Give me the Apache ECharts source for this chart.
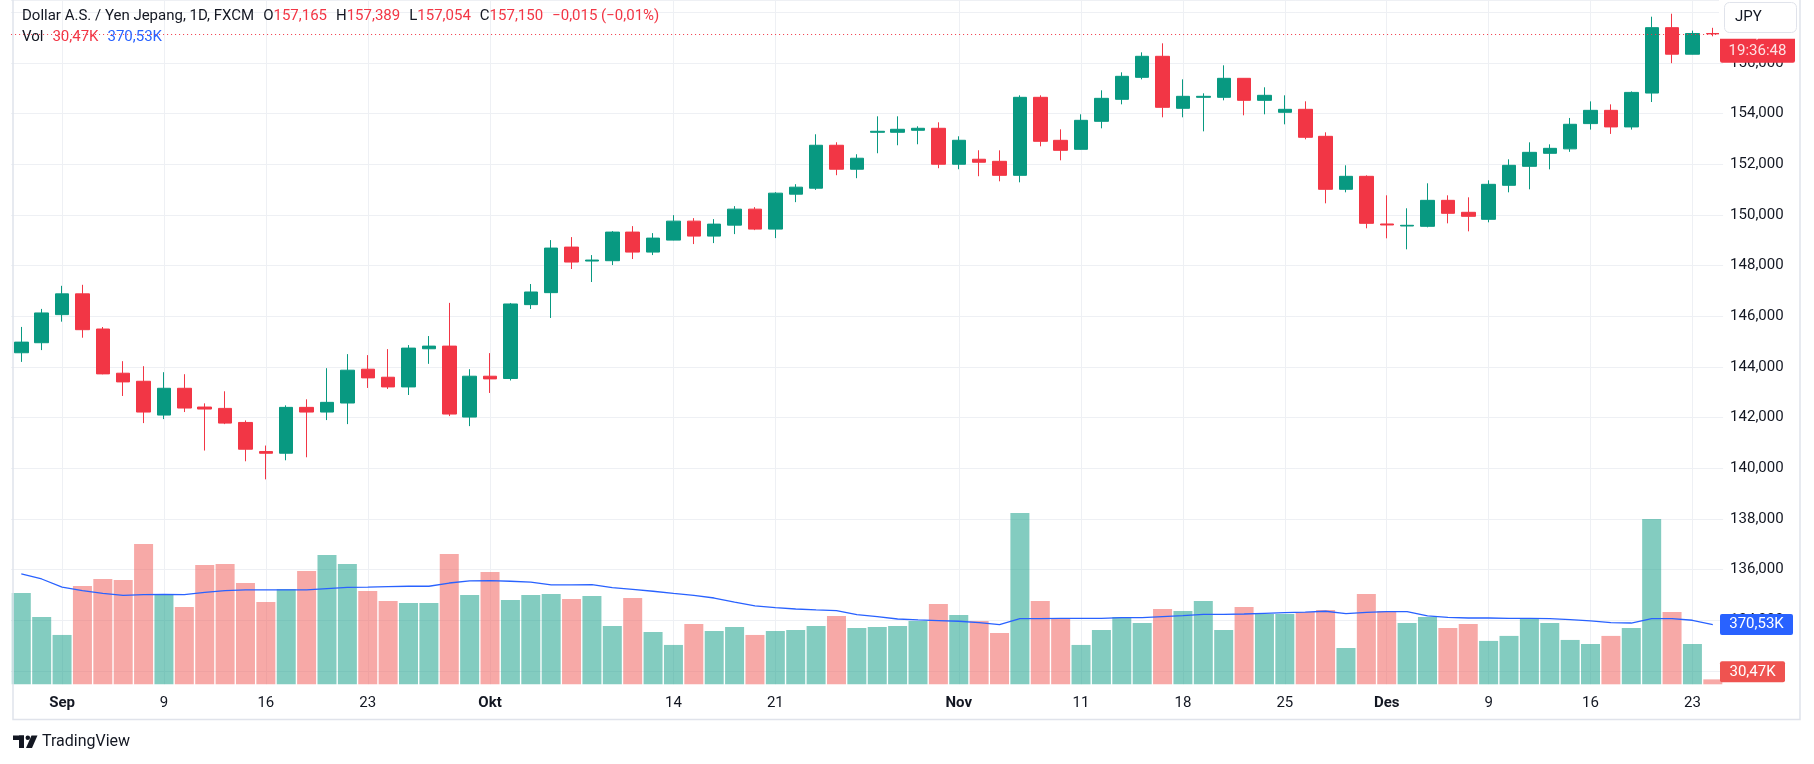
<!DOCTYPE html>
<html>
<head>
<meta charset="utf-8">
<script src="https://cdn.jsdelivr.net/npm/echarts/dist/echarts.min.js"></script>
<style>
html,body{margin:0;padding:0;background:#ffffff;}
#chart{width:1814px;height:764px;}
</style>
</head>
<body>
<div id="chart"></div>
<script>
// ---- data (2024, daily USD/JPY) ----
const dates = ['08-29','08-30','09-02','09-03','09-04','09-05','09-06','09-09','09-10','09-11','09-12','09-13','09-16','09-17','09-18','09-19','09-20','09-23','09-24','09-25','09-26','09-27','09-30','10-01','10-02','10-03','10-04','10-07','10-08','10-09','10-10','10-11','10-14','10-15','10-16','10-17','10-18','10-21','10-22','10-23','10-24','10-25','10-28','10-29','10-30','10-31','11-01','11-04','11-05','11-06','11-07','11-08','11-11','11-12','11-13','11-14','11-15','11-18','11-19','11-20','11-21','11-22','11-25','11-26','11-27','11-28','11-29','12-02','12-03','12-04','12-05','12-06','12-09','12-10','12-11','12-12','12-13','12-16','12-17','12-18','12-19','12-20','12-23','12-24'];

const opens  = [144.560,144.956,146.066,146.886,145.498,143.753,143.435,142.100,143.158,142.417,142.364,141.809,140.659,140.593,142.404,142.219,142.576,143.911,143.594,143.211,144.718,144.823,142.021,143.634,
                143.544,146.460,146.933,148.732,148.181,148.194,149.324,148.535,149.008,149.757,149.166,149.599,150.230,149.442,150.821,151.057,152.752,151.806,153.264,153.264,153.343,153.422,152.003,152.200,
                152.118,151.565,154.645,152.947,152.592,153.697,154.566,155.434,156.264,154.211,154.645,154.645,155.395,154.526,154.053,154.171,153.105,151.013,151.526,149.644,149.565,149.552,150.578,150.105,
                149.828,151.171,151.921,152.434,152.610,153.607,154.131,153.476,154.813,157.395,156.347,157.165];
const highs  = [145.580,146.291,147.203,147.243,145.577,144.228,144.030,143.792,143.713,142.563,143.039,141.889,140.897,142.484,142.722,143.951,144.506,144.467,144.704,144.863,145.220,146.529,143.911,144.546,
                146.526,147.274,149.008,149.127,148.417,149.363,149.560,149.284,149.993,149.875,149.836,150.348,150.309,150.900,151.215,153.186,152.870,152.397,153.895,153.895,153.501,153.658,153.107,152.555,
                152.552,154.724,154.724,153.381,153.974,154.921,155.632,156.421,156.777,155.355,154.803,155.908,155.400,155.040,154.724,154.487,153.263,151.960,151.565,150.776,150.263,151.250,150.776,150.697,
                151.368,152.197,152.868,152.789,153.830,154.485,154.367,154.878,157.828,157.946,157.277,157.389];
const lows   = [144.200,144.665,145.788,145.154,143.710,142.854,141.783,141.941,142.219,140.699,141.743,140.276,139.562,140.315,140.434,141.902,141.743,143.171,143.131,142.893,144.123,142.060,141.664,142.973,
                143.465,146.289,145.934,147.866,147.353,148.023,148.260,148.417,149.000,148.851,148.890,149.245,149.402,149.087,150.506,150.992,151.570,151.452,152.437,152.752,152.791,151.846,151.806,151.530,
                151.329,151.289,152.710,152.158,152.580,153.421,154.368,155.355,153.855,153.855,153.302,154.526,153.934,153.974,153.579,152.987,150.460,150.894,149.473,149.078,148.644,149.512,149.670,149.354,
                149.710,150.894,151.013,151.802,152.492,153.371,153.200,153.371,154.459,155.993,156.340,157.054];
const closes = [144.980,146.132,146.886,145.471,143.726,143.409,142.219,143.158,142.378,142.338,141.783,140.752,140.593,142.404,142.219,142.602,143.872,143.568,143.211,144.744,144.823,142.140,143.634,143.528,
                146.486,146.959,148.693,148.141,148.220,149.324,148.535,149.087,149.757,149.166,149.639,150.230,149.442,150.861,151.097,152.752,151.806,152.240,153.304,153.383,153.422,152.003,152.949,152.082,
                151.565,154.645,152.908,152.552,153.737,154.605,155.474,156.264,154.250,154.684,154.684,155.395,154.526,154.724,154.171,153.066,151.013,151.526,149.670,149.605,149.592,150.578,150.065,149.947,
                151.210,151.960,152.473,152.631,153.580,154.131,153.476,154.839,157.395,156.347,157.165,157.150];

// volume in thousands
const volumesK = [566,417,306,610,653,647,870,554,479,740,746,628,510,591,703,802,746,579,517,504,504,808,554,696,
                  523,554,560,529,548,362,535,324,244,374,331,355,306,331,337,362,424,349,355,362,393,498,430,393,
                  318,1062,517,411,244,337,417,380,467,455,517,337,479,436,436,448,461,225,560,455,380,417,349,374,
                  269,300,411,380,275,250,300,349,1025,448,250,30.47];
// volume moving average (thousands)
const volMAK = [684,653,603,581,564,552,556,558,556,570,581,585,585,585,585,593,601,603,606,608,608,628,641,643,
                639,634,616,616,618,599,589,577,564,552,535,510,486,475,467,461,457,432,420,405,399,395,391,382,
                370,407,407,409,409,409,413,413,420,426,434,434,436,440,444,448,453,438,446,451,451,424,415,411,
                411,409,409,407,401,393,382,380,407,407,397,370.53];

const tickDates = ['09-02','09-09','09-16','09-23','10-01','10-14','10-21','11-01','11-11','11-18','11-25','12-02','12-09','12-16','12-23'];
const tickTexts = ['Sep','9','16','23','Okt','14','21','Nov','11','18','25','Des','9','16','23'];
const monthTicks = ['Sep','Okt','Nov','Des'];

const priceAxis = {min: 132, max: 158.487, step: 2};
const countdown = '19:36:48';
const title = 'Dollar A.S. / Yen Jepang, 1D, FXCM';
const currency = 'JPY';

// ---- helpers ----
const UP = '#089981', DOWN = '#F23645';
const FONT = 'Roboto, "Noto Sans", "DejaVu Sans", sans-serif';
const fmtP = v => v.toFixed(3).replace('.', ',');
const fmtK = v => v.toFixed(2).replace('.', ',') + 'K';
const signed = (v, d) => (v < 0 ? '\u2212' : '+') + Math.abs(v).toFixed(d).replace('.', ',');
const tickIdx = new Set(tickDates.map(d => dates.indexOf(d)));
const isStep = v => Math.abs(v / priceAxis.step - Math.round(v / priceAxis.step)) < 1e-6;

const candles = dates.map((d, i) => [opens[i], closes[i], lows[i], highs[i]]);
const vols = volumesK.map((v, i) => ({
  value: v,
  itemStyle: {color: closes[i] >= opens[i] ? 'rgba(8,153,129,0.5)' : 'rgba(239,83,80,0.5)'}
}));
const n = dates.length, last = n - 1;

const chart = echarts.init(document.getElementById('chart'), null, {renderer: 'canvas'});
const option = {
  animation: false,
  backgroundColor: '#ffffff',
  textStyle: {fontFamily: FONT},
  grid: [
    {left: 11.1, right: 90.9, top: 0, bottom: 93.1},
    {left: 21.3, right: 101.2, top: 0, bottom: 79.7}
  ],
  xAxis: [
    {type: 'category', gridIndex: 0, data: dates, boundaryGap: true, show: false},
    {type: 'category', gridIndex: 1, data: dates, boundaryGap: false,
     axisLine: {show: false}, axisTick: {show: false},
     axisLabel: {
       interval: (i) => tickIdx.has(i),
       formatter: (v) => {
         const k = tickDates.indexOf(v);
         if (k < 0) return '';
         const t = tickTexts[k];
         return monthTicks.includes(t) ? '{b|' + t + '}' : t;
       },
       color: '#131722', fontSize: 15, margin: 11, fontFamily: FONT,
       rich: {b: {fontWeight: 'bold', fontSize: 15, color: '#131722', fontFamily: FONT}}
     },
     splitLine: {show: true, interval: (i) => tickIdx.has(i), lineStyle: {color: '#eef0f4', width: 1}}
    }
  ],
  yAxis: [
    {type: 'value', gridIndex: 0, position: 'right', min: priceAxis.min, max: priceAxis.max, interval: priceAxis.step,
     axisLine: {show: false}, axisTick: {show: false},
     axisLabel: {formatter: v => isStep(v) ? fmtP(v) : '', color: '#131722', fontSize: 15, margin: 7, fontFamily: FONT,
                 showMaxLabel: false},
     splitLine: {show: true, lineStyle: {color: '#eef0f4', width: 1}}
    },
    {type: 'value', gridIndex: 1, min: 0, max: 4243, show: false, splitLine: {show: false}}
  ],
  series: [
    {type: 'bar', name: 'Vol', xAxisIndex: 1, yAxisIndex: 1, data: vols, barWidth: 19, clip: false, z: 2},
    {type: 'line', name: 'Vol MA', xAxisIndex: 1, yAxisIndex: 1, data: volMAK, showSymbol: false, clip: false,
     lineStyle: {color: '#2962FF', width: 1.3}, z: 3},
    {type: 'candlestick', name: 'USDJPY', xAxisIndex: 0, yAxisIndex: 0, data: candles, barWidth: 14, clip: false, z: 4,
     itemStyle: {color: UP, color0: DOWN, borderColor: UP, borderColor0: DOWN, borderWidth: 1},
     markLine: {silent: true, symbol: 'none', label: {show: false},
       lineStyle: {color: DOWN, type: [1, 3], width: 1},
       data: [{yAxis: closes[last]}]}
    }
  ]
};
chart.setOption(option);

// ---- overlay annotations positioned from the axes ----
const pY = chart.convertToPixel({yAxisIndex: 0}, closes[last]);
const maY = chart.convertToPixel({yAxisIndex: 1}, volMAK[last]);
const vY = chart.convertToPixel({yAxisIndex: 1}, volumesK[last]);
const volBottom = chart.convertToPixel({yAxisIndex: 1}, 0);
const vPillC = Math.min(vY, volBottom - 2 - 10.5);

const chg = closes[last] - closes[last - 1];
const pct = chg / closes[last - 1] * 100;

const legend1 = '{t|' + title + '}{s|}{t|O}{r|' + fmtP(opens[last]) + '}{s|}{t|H}{r|' + fmtP(highs[last]) +
  '}{s|}{t|L}{r|' + fmtP(lows[last]) + '}{s|}{t|C}{r|' + fmtP(closes[last]) + '}{s|}{r|' +
  signed(chg, 3) + ' (' + signed(pct, 2) + '%)}';
const legend2 = '{t|Vol}{s|}{r|' + fmtK(volumesK[last]) + '}{s|}{b|' + fmtK(volMAK[last]) + '}';
const rich = {
  t: {fill: '#131722', fontSize: 15, fontFamily: FONT},
  r: {fill: DOWN, fontSize: 15, fontFamily: FONT},
  b: {fill: '#2962FF', fontSize: 15, fontFamily: FONT},
  s: {width: 9}
};

chart.setOption({
  graphic: [
    // frame
    {type: 'polyline', z: 50, shape: {points: [[13, 0], [13, 719.5], [1800, 719.5], [1800, 0]]},
     style: {stroke: '#e0e3eb', lineWidth: 1.5, fill: null}},
    // legend
    {type: 'text', z: 60, x: 22, y: 16, style: {text: legend1, rich: rich, verticalAlign: 'middle', font: '15px ' + FONT}},
    {type: 'text', z: 60, x: 22, y: 37, style: {text: legend2, rich: rich, verticalAlign: 'middle', font: '15px ' + FONT}},
    // last price pill with countdown
    {type: 'rect', z: 70, shape: {x: 1720, y: pY - 11, width: 75, height: pY + 29 - (pY - 11), r: 2}, style: {fill: DOWN}},
    {type: 'text', z: 71, x: 1757.5, y: pY, style: {text: fmtP(closes[last]), fill: '#ffffff', align: 'center', verticalAlign: 'middle', font: '15px ' + FONT}},
    {type: 'text', z: 71, x: 1757.5, y: pY + 17, style: {text: countdown, fill: 'rgba(255,255,255,0.85)', align: 'center', verticalAlign: 'middle', font: '15px ' + FONT}},
    // currency button
    {type: 'rect', z: 80, shape: {x: 1719, y: 0, width: 80, height: pY + 5}, style: {fill: '#ffffff'}},
    {type: 'rect', z: 81, shape: {x: 1724.5, y: 2.5, width: 72, height: 30, r: 5}, style: {fill: '#ffffff', stroke: '#e0e3eb', lineWidth: 1}},
    {type: 'text', z: 82, x: 1735, y: 17, style: {text: currency, fill: '#131722', verticalAlign: 'middle', font: '15px ' + FONT}},
    // volume MA pill
    {type: 'rect', z: 70, shape: {x: 1720, y: maY - 10.5, width: 73, height: 21, r: 2}, style: {fill: '#2962FF'}},
    {type: 'text', z: 71, x: 1756.5, y: maY, style: {text: fmtK(volMAK[last]), fill: '#ffffff', align: 'center', verticalAlign: 'middle', font: '15px ' + FONT}},
    // volume pill
    {type: 'rect', z: 70, shape: {x: 1720, y: vPillC - 10.5, width: 65, height: 21, r: 2}, style: {fill: '#EF5350'}},
    {type: 'text', z: 71, x: 1752.5, y: vPillC, style: {text: fmtK(volumesK[last]), fill: '#ffffff', align: 'center', verticalAlign: 'middle', font: '15px ' + FONT}},
    // TradingView logo
    {type: 'rect', z: 60, shape: {x: 13, y: 735.5, width: 11, height: 4.5}, style: {fill: '#131722'}},
    {type: 'rect', z: 60, shape: {x: 19, y: 735.5, width: 5, height: 12.5}, style: {fill: '#131722'}},
    {type: 'circle', z: 60, shape: {cx: 27.8, cy: 737.8, r: 2.3}, style: {fill: '#131722'}},
    {type: 'polygon', z: 60, shape: {points: [[31.5, 735.5], [37.5, 735.5], [32, 748], [26, 748]]}, style: {fill: '#131722'}},
    {type: 'text', z: 60, x: 42, y: 742, style: {text: 'TradingView', fill: '#131722', verticalAlign: 'middle', font: '16px ' + FONT}}
  ]
});
</script>
</body>
</html>
